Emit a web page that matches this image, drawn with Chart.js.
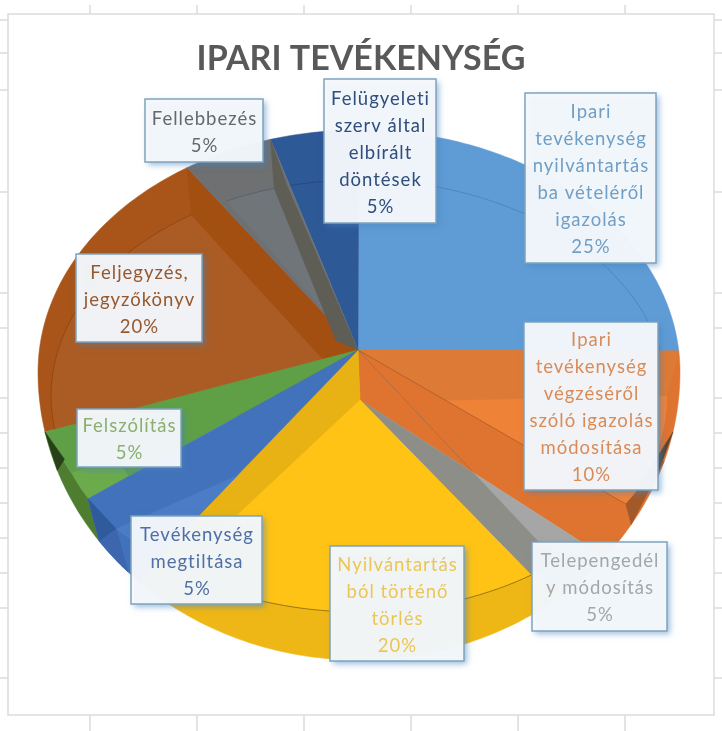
<!DOCTYPE html>
<html><head><meta charset="utf-8">
<style>html,body{margin:0;padding:0;background:#fff}canvas{display:block}</style>
<script src="https://cdn.jsdelivr.net/npm/chart.js@4"></script>
</head><body>
<canvas id="c" width="722" height="731"></canvas>
<script>
const chartTitle = 'IPARI TEVÉKENYSÉG';
const categories = [
  ['Ipari','tevékenység','nyilvántartás','ba vételéről','igazolás'],
  ['Ipari','tevékenység','végzéséről','szóló igazolás','módosítása'],
  ['Telepengedél','y módosítás'],
  ['Nyilvántartás','ból történő','törlés'],
  ['Tevékenység','megtiltása'],
  ['Felszólítás'],
  ['Feljegyzés,','jegyzőkönyv'],
  ['Fellebbezés'],
  ['Felügyeleti','szerv által','elbírált','döntések']
];
const values = [25,10,5,20,5,5,20,5,5];
const sliceColors = ['#5f9cd6','#e0732a','#a6a6a6','#ffc316','#4272bb','#5fa046','#a9551a','#6e7072','#2e5997'];
const labelColors = ['#6f9fc6','#d98b58','#a4a6a9','#ecc654','#4f6fa6','#8cae6e','#96592f','#66686b','#2f4d7d'];
const labelBoxes = [[525,93,131,170],[524,322,134,168],[532,542,135,89],[330,546,134,115],[131,516,131,88],[77,409,104,58],[76,254,126,88],[145,99,118,63],[324,79,112,144]];

// 3D projection of the pie: centre of upper point, centre of floor, outer and inner outlines
const view = {ax:358, ay:350, bx:360, by:400, cx:359, ocy:372, orx:321, oryT:242, oryB:288, icy:396, irx:308, iry:216};
const rad = d => d*Math.PI/180;
const O = t => { const c=Math.cos(rad(t)); return [view.cx+view.orx*Math.sin(rad(t)), view.ocy-(c>0?view.oryT:view.oryB)*c]; };
const I = t => [view.cx+view.irx*Math.sin(rad(t)), view.icy-view.iry*Math.cos(rad(t))];

// facets of each slice, angles in degrees relative to the slice's own start
const facets = [
 [{c:'#5f9cd6',p:[['A'],['Oa',0,85]]},{line:'rgba(60,100,150,.4)',p:[['Ia',0,90]]}],
 [{c:'#de7430',p:[['A'],['Oa',-5,40],['L',50,.58],['B']]},
  {c:'#dd7b36',p:[['A'],['O',-5],['I',0],['L',30,.33]]},
  {c:'#ee8338',p:[['L',30,.33],['Ia',0,30]]},
  {c:'#a35a2a',p:[['I',30],['O',18],['O',32]]},
  {c:'#5a4636',p:[['O',12],['O',24],['I',26]]},
  {line:'#b6602a',p:[['A'],['I',30]]},
  {line:'rgba(130,110,90,.6)',p:[['A'],['L',50,.58]]}],
 [{c:'#a6a6a6',p:[['L',14,.58],['Oa',4,20]]},
  {c:'#8e8e88',p:[['B'],['L',14,.58],['I',14],['I',20]]}],
 [{c:'#efb716',p:[['B'],['I',2],['Oa',-4,79],['I',77],['A']]},
  {c:'#e8b214',p:[['A'],['B'],['I',72],['I',77]]},
  {c:'#ffc316',p:[['B'],['Ia',2,72]]},
  {line:'#9a7510',p:[['Ia',2,72]]}],
 [{c:'#4272bb',p:[['A'],['I',25.6],['Oa',18,7],['I',5]]},
  {c:'#2f5a9c',p:[['I',25.6],['O',18],['I',16]]},
  {c:'#3d66ae',p:[['Oa',18,10],['I',16]]},
  {c:'#4c7cc6',p:[['L',5,.6],['I',5],['I',16]]}],
 [{c:'#5fa046',p:[['A'],['O',24],['I',7.6]]},
  {c:'#6cab4c',p:[['L',7.6,.85],['I',7.6],['Ia',7.6,15],['L',15,.85]]},
  {c:'#4e7d2f',p:[['Oa',24,0],['I',7.6],['Ia',7.6,15]]},
  {c:'#26401a',p:[['O',24],['O',16],['I',19]]}],
 [{c:'#a9551a',p:[['A'],['Oa',6,75.6]]},
  {c:'#ab5c25',p:[['B'],['Ia',6,75]]},
  {c:'#a34f12',p:[['A'],['O',75.6],['I',75],['B']]},
  {line:'#93470f',p:[['Ia',6,75]]}],
 [{c:'#6e7072',p:[['A'],['Oa',3.6,20]]},
  {c:'#70757a',p:[['A'],['Ia',10.6,20]]},
  {c:'#5e5e56',p:[['A'],['I',22.5],['O',20],['I',20],['K',20,.72]]},
  {line:'#55626f',p:[['Ia',10.6,20]]}],
 [{c:'#2e5997',p:[['A'],['Oa',2,18]]},{line:'#264a80',p:[['Ia',4,18]]}]
];
const drawOrder = [0,1,2,6,3,5,4,8,7];

function pathOf(ctx, tokens, s){
  let first = true;
  const put = p => { if(first){ctx.moveTo(p[0],p[1]);first=false;} else ctx.lineTo(p[0],p[1]); };
  for(const k of tokens){
    if(k[0]==='A') put([view.ax,view.ay]);
    else if(k[0]==='B') put([view.bx,view.by]);
    else if(k[0]==='O') put(O(s+k[1]));
    else if(k[0]==='I') put(I(s+k[1]));
    else if(k[0]==='L'){ const q=I(s+k[1]); put([view.ax+(q[0]-view.ax)*k[2], view.ay+(q[1]-view.ay)*k[2]]); }
    else if(k[0]==='K'){ const q=I(s+k[1]); put([q[0]+(view.bx-q[0])*k[2], q[1]+(view.by-q[1])*k[2]]); }
    else { const f=k[0]==='Oa'?O:I, n=Math.max(2,Math.ceil(Math.abs(k[2]-k[1]))); for(let i=0;i<=n;i++) put(f(s+k[1]+(k[2]-k[1])*i/n)); }
  }
}

const pie3d = {
  id:'pie3d',
  beforeDraw(chart){
    const ctx=chart.ctx;
    ctx.save();
    ctx.fillStyle='#fff'; ctx.fillRect(0,0,722,731);
    ctx.strokeStyle='#dcdcdc'; ctx.lineWidth=1.5;
    ctx.strokeRect(8,14,706,701);
    ctx.beginPath();
    for(const x of [90,197,304,411,518,625]){ctx.moveTo(x,5);ctx.lineTo(x,14);ctx.moveTo(x,715);ctx.lineTo(x,731);}
    for(const y of [20,53,90,192,293,328,398,433,468,503,538,573,608,678]){ctx.moveTo(0,y);ctx.lineTo(8,y);ctx.moveTo(714,y);ctx.lineTo(722,y);}
    ctx.stroke();
    ctx.restore();
  },
  beforeDatasetsDraw(chart){
    const ctx=chart.ctx, arcs=chart.getDatasetMeta(0).data;
    ctx.save();
    for(const i of drawOrder){
      const s=(arcs[i].startAngle+Math.PI/2)*180/Math.PI;
      for(const f of facets[i]){
        ctx.beginPath(); pathOf(ctx,f.p,s);
        if(f.line){ctx.strokeStyle=f.line;ctx.lineWidth=1;ctx.stroke();}
        else {ctx.closePath();ctx.fillStyle=f.c;ctx.fill();ctx.strokeStyle=f.c;ctx.lineWidth=.5;ctx.stroke();}
      }
    }
    ctx.restore();
    return false;
  },
  afterDraw(chart){
    const ctx=chart.ctx;
    const lh=27;
    categories.forEach((lines,i)=>{
      const [x,y,w,h]=labelBoxes[i];
      ctx.save();
      ctx.shadowColor='rgba(70,130,190,.55)';ctx.shadowBlur=6;ctx.shadowOffsetX=3;ctx.shadowOffsetY=3;
      ctx.fillStyle='rgba(245,248,251,.96)';ctx.fillRect(x,y,w,h);
      ctx.shadowColor='transparent';
      ctx.strokeStyle='#7ea3bd';ctx.lineWidth=1.5;ctx.strokeRect(x,y,w,h);
      ctx.fillStyle=labelColors[i];
      ctx.font='18.5px Lato';ctx.letterSpacing='1px';ctx.textAlign='center';ctx.textBaseline='middle';
      const all=[...lines,values[i]+'%'];
      const y0=y+h/2+2-(all.length-1)*lh/2;
      all.forEach((t,k)=>ctx.fillText(t,x+w/2+.5,y0+k*lh));
      ctx.restore();
    });
  }
};

new Chart(document.getElementById('c'),{
  type:'pie',
  data:{labels:categories,datasets:[{data:values,backgroundColor:sliceColors,borderWidth:0}]},
  options:{
    responsive:false,animation:false,
    layout:{padding:0},
    plugins:{
      legend:{display:false},tooltip:{enabled:false},
      title:{display:true,text:chartTitle,color:'#595959',font:{family:'Lato',size:34,weight:'bold'},padding:{top:39,bottom:10}}
    }
  },
  plugins:[pie3d]
});
</script>
</body></html>
